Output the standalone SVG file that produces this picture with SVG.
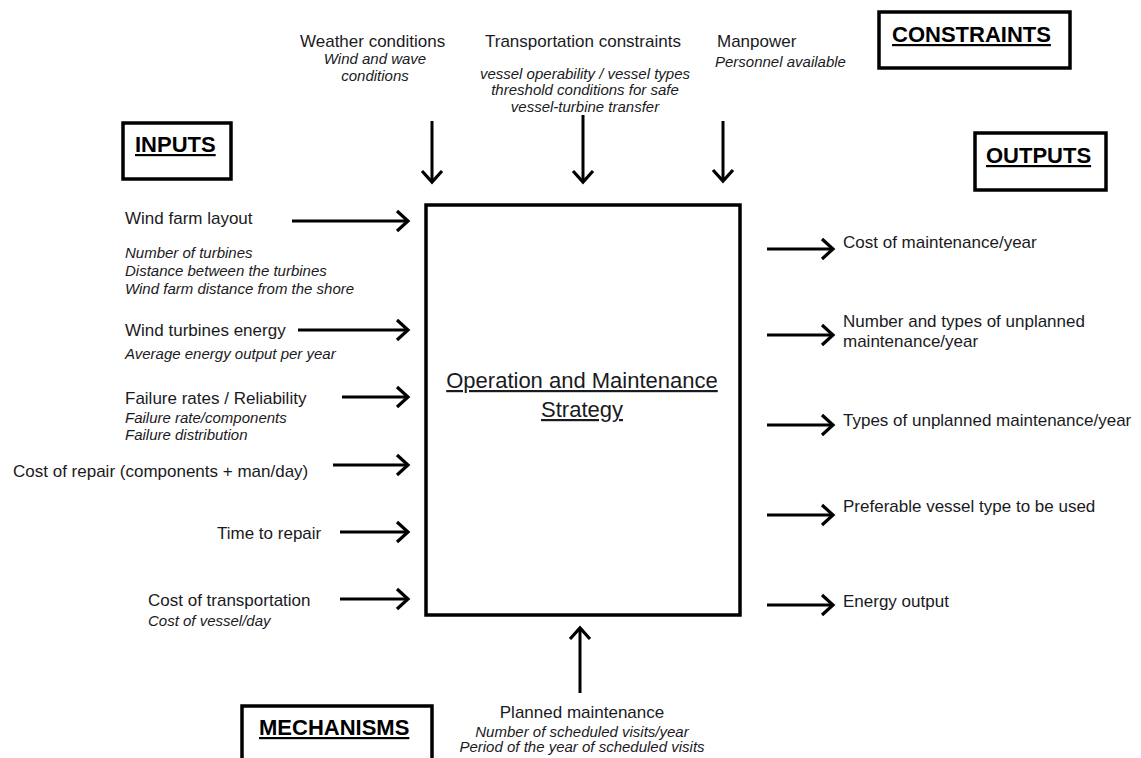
<svg xmlns="http://www.w3.org/2000/svg" width="1141" height="758" viewBox="0 0 1141 758">
  <style>
    text { font-family: "Liberation Sans", Arial, sans-serif; fill: #1a1a22; }
    .r { font-size: 17px; }
    .i { font-size: 15px; font-style: italic; }
    .t { font-size: 22px; font-weight: bold; text-decoration: underline; fill: #000; }
    .m { font-size: 22px; text-decoration: underline; text-anchor: middle; }
    .box { fill: #fff; stroke: #000; stroke-width: 3.5; }
    .c { fill: none; stroke: #000; stroke-width: 3; marker-end: url(#arr); }
  </style>
  <defs>
    <marker id="arr" markerUnits="userSpaceOnUse" markerWidth="16" markerHeight="24" viewBox="0 0 16 24" refX="13" refY="12" orient="auto" overflow="visible">
      <path d="M2,2 L13,12 L2,22" fill="none" stroke="#000" stroke-width="3.2"/>
    </marker>
  </defs>
  <rect width="1141" height="758" fill="#fff"/>

  <g id="main">
    <rect class="box" x="426" y="205" width="314" height="410"/>
    <text class="m" x="582" y="388">Operation and Maintenance</text>
    <text class="m" x="582" y="417">Strategy</text>
  </g>

  <g id="label-inputs">
    <rect class="box" x="123" y="123" width="108" height="56"/>
    <text class="t" x="135" y="152">INPUTS</text>
  </g>
  <g id="label-constraints">
    <rect class="box" x="879" y="12" width="191" height="56"/>
    <text class="t" x="892" y="42">CONSTRAINTS</text>
  </g>
  <g id="label-outputs">
    <rect class="box" x="975" y="133" width="131" height="57"/>
    <text class="t" x="986" y="163">OUTPUTS</text>
  </g>
  <g id="label-mechanisms">
    <rect class="box" x="242" y="706" width="190" height="60"/>
    <text class="t" x="259" y="735">MECHANISMS</text>
  </g>

  <g id="c-weather">
    <text class="r" x="300" y="47">Weather conditions</text>
    <text class="i" x="375" y="64" text-anchor="middle">Wind and wave</text>
    <text class="i" x="375" y="81" text-anchor="middle">conditions</text>
  </g>
  <g id="c-transport">
    <text class="r" x="485" y="47">Transportation constraints</text>
    <text class="i" x="585" y="79" text-anchor="middle">vessel operability  / vessel types</text>
    <text class="i" x="585" y="95" text-anchor="middle">threshold conditions for safe</text>
    <text class="i" x="585" y="112" text-anchor="middle">vessel-turbine transfer</text>
  </g>
  <g id="c-manpower">
    <text class="r" x="717" y="47">Manpower</text>
    <text class="i" x="715" y="67">Personnel available</text>
  </g>

  <g id="in-layout">
    <text class="r" x="125" y="224">Wind farm layout</text>
    <text class="i" x="125" y="258">Number of turbines</text>
    <text class="i" x="125" y="276">Distance between the turbines</text>
    <text class="i" x="125" y="294">Wind farm distance from the shore</text>
  </g>
  <g id="in-energy">
    <text class="r" x="125" y="336">Wind turbines energy</text>
    <text class="i" x="125" y="359">Average energy output per year</text>
  </g>
  <g id="in-failure">
    <text class="r" x="125" y="404">Failure rates / Reliability</text>
    <text class="i" x="125" y="423">Failure rate/components</text>
    <text class="i" x="125" y="440">Failure distribution</text>
  </g>
  <g id="in-repaircost">
    <text class="r" x="13" y="477">Cost of repair (components + man/day)</text>
  </g>
  <g id="in-time">
    <text class="r" x="217" y="539">Time to repair</text>
  </g>
  <g id="in-transport">
    <text class="r" x="148" y="606">Cost of transportation</text>
    <text class="i" x="148" y="626">Cost of vessel/day</text>
  </g>

  <g id="out-cost">
    <text class="r" x="843" y="248">Cost of maintenance/year</text>
  </g>
  <g id="out-number">
    <text class="r" x="843" y="327">Number and types of unplanned</text>
    <text class="r" x="843" y="347">maintenance/year</text>
  </g>
  <g id="out-types">
    <text class="r" x="843" y="426">Types of unplanned maintenance/year</text>
  </g>
  <g id="out-vessel">
    <text class="r" x="843" y="512">Preferable vessel type to be used</text>
  </g>
  <g id="out-energy">
    <text class="r" x="843" y="607">Energy output</text>
  </g>

  <g id="mech-planned">
    <text class="r" x="582" y="718" text-anchor="middle">Planned maintenance</text>
    <text class="i" x="582" y="737" text-anchor="middle">Number of scheduled visits/year</text>
    <text class="i" x="582" y="752" text-anchor="middle">Period of the year of scheduled visits</text>
  </g>

  <g id="connectors">
    <path class="c" d="M432,121 V182"/>
    <path class="c" d="M583,115 V182"/>
    <path class="c" d="M723,121 V181"/>
    <path class="c" d="M292,221 H408"/>
    <path class="c" d="M298,330 H408"/>
    <path class="c" d="M342,397 H408"/>
    <path class="c" d="M333,465 H408"/>
    <path class="c" d="M340,532 H408"/>
    <path class="c" d="M340,599 H408"/>
    <path class="c" d="M767,249 H833"/>
    <path class="c" d="M767,335 H833"/>
    <path class="c" d="M767,425 H833"/>
    <path class="c" d="M767,515 H833"/>
    <path class="c" d="M767,605 H833"/>
    <path class="c" d="M580,693 V628"/>
  </g>
</svg>
